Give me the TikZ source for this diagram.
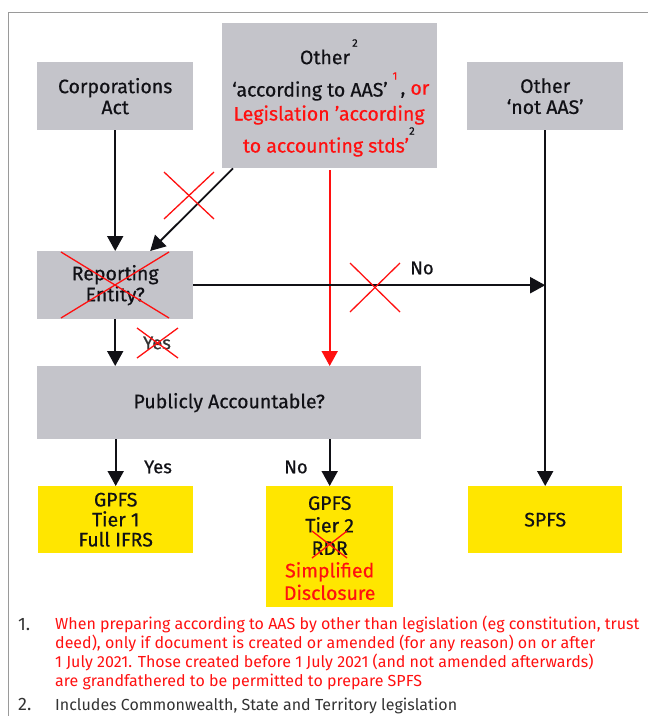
\documentclass[tikz,border=0pt]{standalone}
\usepackage{fontspec}
\setmainfont{Fira Sans}[FakeBold=0.5]
\newfontfamily\notefont{Fira Sans}
\usetikzlibrary{arrows.meta,calc}
\definecolor{boxgray}{HTML}{C4C4CA}
\definecolor{eyyellow}{HTML}{FFE600}
\definecolor{eyred}{HTML}{FF1010}
\definecolor{ink}{HTML}{111116}
\definecolor{notegray}{HTML}{333333}
\definecolor{framegray}{HTML}{9A9A9A}
\tikzset{
  gbox/.style={fill=boxgray, draw=none, inner sep=0pt, anchor=north west},
  ybox/.style={fill=eyyellow, draw=none, inner sep=0pt, anchor=north west},
  txt/.style={inner sep=0pt, align=center, text=ink, font=\fontsize{19.5}{21}\selectfont},
  redtxt/.style={txt, text=eyred},
  sup/.style={inner sep=0pt, text=ink, font=\fontsize{11}{11}\selectfont},
  arr/.style={-{Triangle[length=15pt,width=16pt]}, line width=1.8pt, draw=ink},
  redarr/.style={-{Triangle[length=15pt,width=16pt]}, line width=1.8pt, draw=eyred},
  cross/.style={draw=eyred, line width=1.3pt},
  lbl/.style={inner sep=0pt, text=ink, font=\fontsize{18.5}{20}\selectfont},
  note/.style={inner sep=0pt, anchor=base west, font=\notefont\fontsize{16}{19}\selectfont},
}
\begin{document}
\begin{tikzpicture}[x=1pt,y=-1pt]
\useasboundingbox (0,0) rectangle (648,716);
\draw[framegray, line width=1pt] (8,716) -- (8,12) -- (648,12);

% boxes
\node[gbox, minimum width=156pt, minimum height=68pt] (corp) at (37,62) {};
\node[gbox, minimum width=215pt, minimum height=145pt] (other) at (222,23) {};
\node[gbox, minimum width=156pt, minimum height=68pt] (notaas) at (467,62) {};
\node[gbox, minimum width=156pt, minimum height=68pt] (rep) at (37,251) {};
\node[gbox, minimum width=384pt, minimum height=73pt] (pa) at (37,366) {};
\node[ybox, minimum width=155pt, minimum height=67pt] (t1) at (38,486) {};
\node[ybox, minimum width=127pt, minimum height=121pt] (t2) at (266,486) {};
\node[ybox, minimum width=154pt, minimum height=67pt] (spfs) at (468,486) {};

% box texts
\node[txt] (corpT) at (corp) {Corporations\\Act};
\node[txt] (notaasT) at (notaas) {Other\\‘not AAS’};
\node[txt] (repT) at (rep) {Reporting\\Entity?};
\node[txt] (paT) at (pa) {Publicly Accountable?};
\node[txt, font=\fontsize{19.5}{20}\selectfont] (t1T) at (t1) {GPFS\\Tier 1\\Full IFRS};
\node[txt] (spfsT) at (spfs) {SPFS};
\node[txt, font=\fontsize{19.5}{22.5}\selectfont, anchor=north] (t2T) at ($(t2.north)+(0,10)$) {GPFS\\Tier 2\\RDR\\\textcolor{eyred}{Simplified}\\\textcolor{eyred}{Disclosure}};

% other box text
\node[txt] (oth1) at (325,57) {Other};
\node[sup] (oth1s) at (355,43) {2};
\node[txt] (oth2) at (310,91) {‘according to AAS’};
\node[sup, text=eyred] (oth2s) at (395,76) {1};
\node[txt] (oth2b) at (415,91) {, \textcolor{eyred}{or}};
\node[redtxt] (oth3) at (329,115) {Legislation ’according};
\node[sup] (oth3s) at (412,131) {2};
\node[redtxt] (oth4) at (326,147) {to accounting stds’};

% connectors
\draw[arr] (corp.south) -- (rep.north);
\draw[arr] ($(other.south west)+(11,0)$) -- ($(rep.north)+(35,0)$);
\draw[redarr] ($(other.south)+(0,2)$) -- (other.south |- pa.north);
\coordinate (hEnd) at (rep.east -| notaas.south);
\draw[arr] (rep.east) -- (hEnd);
\draw[arr] (notaas.south) -- (spfs.north);
\draw[arr] (rep.south) -- (rep.south |- pa.north);
\draw[arr] (t1.north |- pa.south) -- (t1.north);
\draw[arr] (t2.north |- pa.south) -- (t2.north);

% labels
\node[lbl] (lNo1) at (422,268) {No};
\node[lbl, text=notegray] (lYes1) at (157,343) {Yes};
\node[lbl] (lYes2) at (158,467) {Yes};
\node[lbl] (lNo2) at (296,467) {No};

% red crosses
\draw[cross] (164,172) -- (214,219);
\draw[cross] (214,172) -- (164,219);
\draw[cross] (350,263) -- (400,312);
\draw[cross] (400,263) -- (350,312);
\draw[cross] (61,252) -- (169,318);
\draw[cross] (169,252) -- (61,318);
\draw[cross] (137,328) -- (178,358);
\draw[cross] (178,328) -- (137,358);
\draw[cross] (312,531) -- (347,558);
\draw[cross] (347,531) -- (312,558);

% footnotes
\node[note, text=notegray, font=\notefont\fontsize{18}{19}\selectfont] (n1) at (18,630) {1.};
\node[note, text=eyred, align=left, anchor=north west] (n1T) at (55,616) {When preparing according to AAS by other than legislation (eg constitution, trust\\deed), only if document is created or amended (for any reason) on or after\\1 July 2021. Those created before 1 July 2021 (and not amended afterwards)\\are grandfathered to be permitted to prepare SPFS};
\node[note, text=notegray, font=\notefont\fontsize{18}{19}\selectfont] (n2) at (18,710) {2.};
\node[note, text=notegray] (n2T) at (55,710) {Includes Commonwealth, State and Territory legislation};
\end{tikzpicture}
\end{document}
